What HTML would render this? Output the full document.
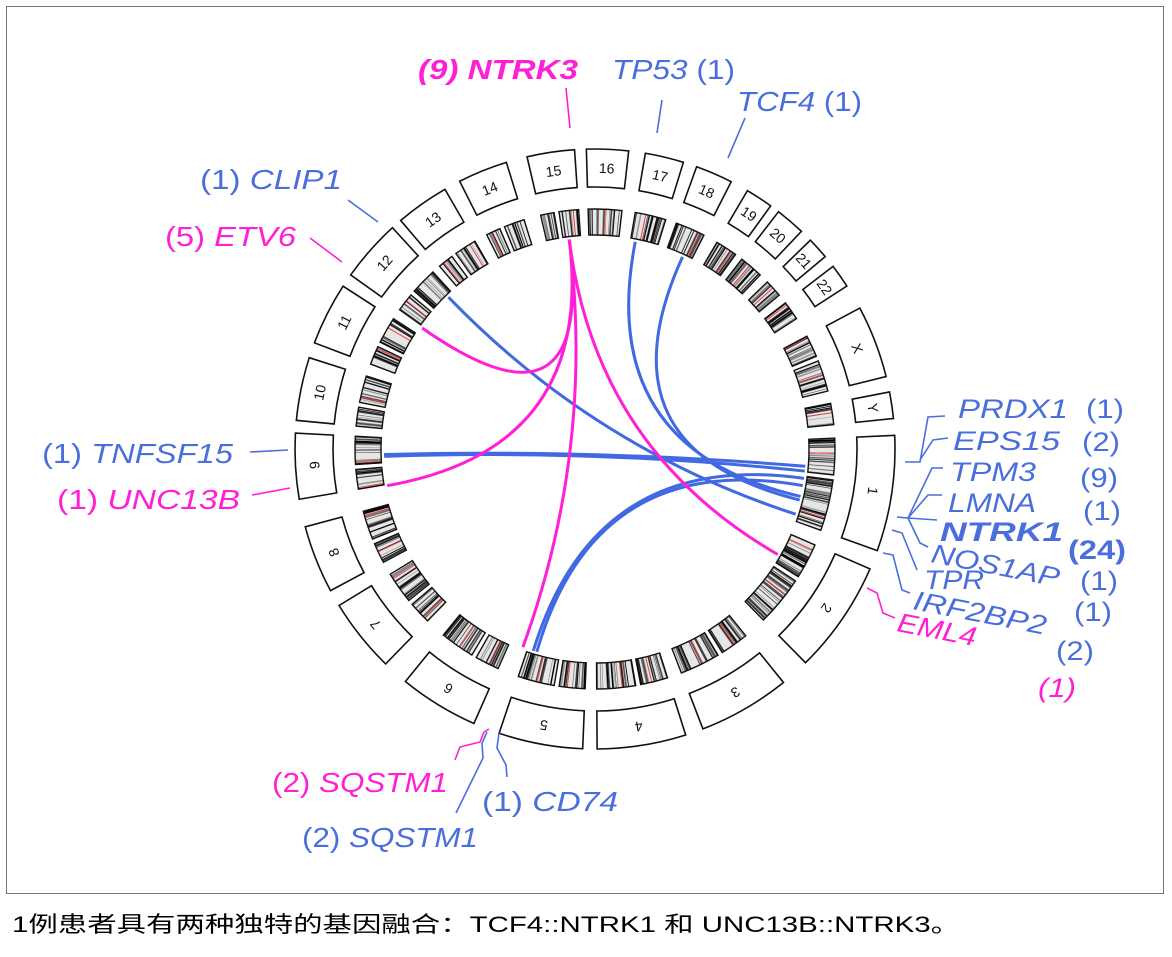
<!DOCTYPE html>
<html><head><meta charset="utf-8">
<style>
html,body{margin:0;padding:0;background:#fff;}
body{width:1172px;height:957px;overflow:hidden;position:relative;font-family:"Liberation Sans","Noto Sans CJK SC",sans-serif;}
#frame{position:absolute;left:6px;top:6px;width:1158px;height:888px;border:1.5px solid #777;box-sizing:border-box;}
svg{position:absolute;left:0;top:0;}
</style></head><body>
<div id="frame"></div>
<svg id="s" width="1172" height="957" xmlns="http://www.w3.org/2000/svg" font-family="Liberation Sans, sans-serif">
<g id="g"></g>
<g font-size="28" font-style="italic" fill="#4a6fdc" lengthAdjust="spacingAndGlyphs">
<text x="418" y="79" fill="#ff1fd6" font-weight="bold" textLength="160" lengthAdjust="spacingAndGlyphs">(9) NTRK3</text>
<text x="612" y="79" textLength="123" lengthAdjust="spacingAndGlyphs">TP53 <tspan font-style="normal">(1)</tspan></text>
<text x="737" y="111" textLength="125" lengthAdjust="spacingAndGlyphs">TCF4 <tspan font-style="normal">(1)</tspan></text>
<text x="200" y="189" textLength="142" lengthAdjust="spacingAndGlyphs"><tspan font-style="normal">(1)</tspan> CLIP1</text>
<text x="165" y="246" fill="#ff1fd6" textLength="131" lengthAdjust="spacingAndGlyphs"><tspan font-style="normal">(5)</tspan> ETV6</text>
<text x="42" y="463" textLength="191" lengthAdjust="spacingAndGlyphs"><tspan font-style="normal">(1)</tspan> TNFSF15</text>
<text x="57" y="509" fill="#ff1fd6" textLength="183" lengthAdjust="spacingAndGlyphs"><tspan font-style="normal">(1)</tspan> UNC13B</text>
<text x="272" y="792" fill="#ff1fd6" textLength="176" lengthAdjust="spacingAndGlyphs"><tspan font-style="normal">(2)</tspan> SQSTM1</text>
<text x="482" y="811" textLength="136" lengthAdjust="spacingAndGlyphs"><tspan font-style="normal">(1)</tspan> CD74</text>
<text x="302" y="847" textLength="176" lengthAdjust="spacingAndGlyphs"><tspan font-style="normal">(2)</tspan> SQSTM1</text>
</g>
<g font-size="27" font-style="italic" fill="#4a6fdc">
<text x="958" y="418" textLength="110" lengthAdjust="spacingAndGlyphs">PRDX1</text>
<text x="953" y="450" textLength="107" lengthAdjust="spacingAndGlyphs">EPS15</text>
<text x="950" y="481" textLength="86" lengthAdjust="spacingAndGlyphs">TPM3</text>
<text x="948" y="512" textLength="88" lengthAdjust="spacingAndGlyphs">LMNA</text>
<text x="940" y="541" font-weight="bold" textLength="123" lengthAdjust="spacingAndGlyphs">NTRK1</text>
<text x="930" y="562" transform="rotate(11 930 562)" textLength="130" lengthAdjust="spacingAndGlyphs">NOS1AP</text>
<text x="924" y="589" textLength="60" lengthAdjust="spacingAndGlyphs">TPR</text>
<text x="912" y="609" transform="rotate(11 912 609)" textLength="135" lengthAdjust="spacingAndGlyphs">IRF2BP2</text>
<text x="896" y="631" fill="#ff1fd6" transform="rotate(11 896 631)" textLength="80" lengthAdjust="spacingAndGlyphs">EML4</text>
</g>
<g font-size="27" fill="#4a6fdc">
<text x="1086" y="418" textLength="38" lengthAdjust="spacingAndGlyphs">(1)</text>
<text x="1082" y="451" textLength="38" lengthAdjust="spacingAndGlyphs">(2)</text>
<text x="1080" y="487" textLength="38" lengthAdjust="spacingAndGlyphs">(9)</text>
<text x="1083" y="520" textLength="38" lengthAdjust="spacingAndGlyphs">(1)</text>
<text x="1068" y="559" font-weight="bold" textLength="58" lengthAdjust="spacingAndGlyphs">(24)</text>
<text x="1080" y="590" textLength="38" lengthAdjust="spacingAndGlyphs">(1)</text>
<text x="1074" y="621" textLength="38" lengthAdjust="spacingAndGlyphs">(1)</text>
<text x="1056" y="660" textLength="38" lengthAdjust="spacingAndGlyphs">(2)</text>
<text x="1038" y="697" fill="#ff1fd6" font-style="italic" textLength="38" lengthAdjust="spacingAndGlyphs">(1)</text>
</g>
<g fill="none" stroke-width="1.6" stroke="#4a6fdc">
<path d="M566 88 L570 128" stroke="#ff1fd6"/>
<path d="M662 100 L657 133"/>
<path d="M745 118 L728 158"/>
<path d="M348 200 L378 222"/>
<path d="M310 238 L342 262" stroke="#ff1fd6"/>
<path d="M250 452 L288 450"/>
<path d="M252 495 L290 488" stroke="#ff1fd6"/>
<path d="M905 462 L920 462 L928 417 L945 416"/>
<path d="M920 460 L933 440 L948 438"/>
<path d="M897 517 L908 518 L932 468 L943 468"/>
<path d="M908 518 L928 495 L942 495"/>
<path d="M908 518 L937 520"/>
<path d="M908 518 L920 543 L928 547"/>
<path d="M892 530 L902 533 L917 570"/>
<path d="M883 553 L893 555 L902 590 L910 593"/>
<path d="M867 588 L877 593 L883 613 L895 618" stroke="#ff1fd6"/>
<path d="M455 760 L460 747 L480 742 L484 732 L489 729" stroke="#ff1fd6"/>
<path d="M456 813 L483 758 L482 743 L487 732"/>
<path d="M507 777 L506 765 L497 748 L499 733"/>
</g>
<text x="12" y="932" font-size="22" fill="#000" font-family="Liberation Sans, Noto Sans CJK SC, sans-serif" textLength="948" lengthAdjust="spacingAndGlyphs">1例患者具有两种独特的基因融合：TCF4::NTRK1 和 UNC13B::NTRK3。</text>
</svg>
<script>
(function(){
var cx=595,cy=449,NS="http://www.w3.org/2000/svg",g=document.getElementById('g');
function pt(a,r){var t=a*Math.PI/180;return [cx+r*Math.sin(t),cy-r*Math.cos(t)];}
function sector(a1,a2,r1,r2){var p1=pt(a1,r2),p2=pt(a2,r2),p3=pt(a2,r1),p4=pt(a1,r1),l=(a2-a1)>180?1:0;
return "M"+p1+" A"+r2+" "+r2+" 0 "+l+" 1 "+p2+" L"+p3+" A"+r1+" "+r1+" 0 "+l+" 0 "+p4+" Z";}
function el(n,at){var e=document.createElementNS(NS,n);for(var k in at)e.setAttribute(k,at[k]);g.appendChild(e);return e;}
var names=["1","2","3","4","5","6","7","8","9","10","11","12","13","14","15","16","17","18","19","20","21","22","X","Y"];
var len=[249,243,198,191,181,171,159,146,141,136,135,134,115,107,102,90,83,80,59,64,47,51,156,57];
var ctr=[98.6,124.5,150,171,190.5,211.5,231.4,248.4,266.7,281.6,296.8,311.5,324.8,338,351.5,362.4,373.4,383.4,393.2,400.6,408,414.8,429,441.6];
var sc=0.09,seed=7;
function rnd(){seed=(seed*9301+49297)%233280;return seed/233280;}
for(var i=0;i<24;i++){
 var h=len[i]*sc/2,a1=ctr[i]-h,a2=ctr[i]+h;
 el("path",{d:sector(a1,a2,262,300),fill:"#fff",stroke:"#111","stroke-width":1.6});
 var m=(a1+a2)/2,p=pt(m,281);
 var t=el("text",{x:p[0],y:p[1]+5,"font-size":14,"text-anchor":"middle",fill:"#111",transform:"rotate("+m+" "+p[0]+" "+p[1]+")"});t.textContent=names[i];
 var segs=(a2-a1>9)?[[a1,a1+(a2-a1)*0.42-0.6],[a1+(a2-a1)*0.42+0.6,a2]]:[[a1,a2]];
 segs.forEach(function(sg){
  el("path",{d:sector(sg[0],sg[1],214,240),fill:"#e6e6e6",stroke:"none"});
  var n=Math.round((sg[1]-sg[0])*2.2);
  for(var j=0;j<n;j++){var b=sg[0]+rnd()*(sg[1]-sg[0]);var q1=pt(b,214),q2=pt(b,240);
   el("line",{x1:q1[0],y1:q1[1],x2:q2[0],y2:q2[1],stroke:"#000","stroke-width":0.5+rnd()*1.3,opacity:0.3+rnd()*0.7});}
  var b=sg[0]+rnd()*(sg[1]-sg[0]),q1=pt(b,214),q2=pt(b,240);
  el("line",{x1:q1[0],y1:q1[1],x2:q2[0],y2:q2[1],stroke:"#f04040","stroke-width":1});
  el("path",{d:sector(sg[0],sg[1],214,240),fill:"none",stroke:"#111","stroke-width":1.4});
 });
}
function link(x,y,c){var p1=pt(x,211),p2=pt(y,211);el("path",{d:"M"+p1+" Q"+cx+" "+cy+" "+p2,fill:"none",stroke:c,"stroke-width":3});}
var M="#ff1fd6",B="#4169e1";
link(316,108,B);link(268.5,94.7,B);link(11,103,B);link(24.5,104,B);link(197,98,B);link(196,100,B);link(268,96,B);
link(353,305,M);link(353,260,M);link(353,200,M);link(353,120,M);
})();
</script>
</body></html>
